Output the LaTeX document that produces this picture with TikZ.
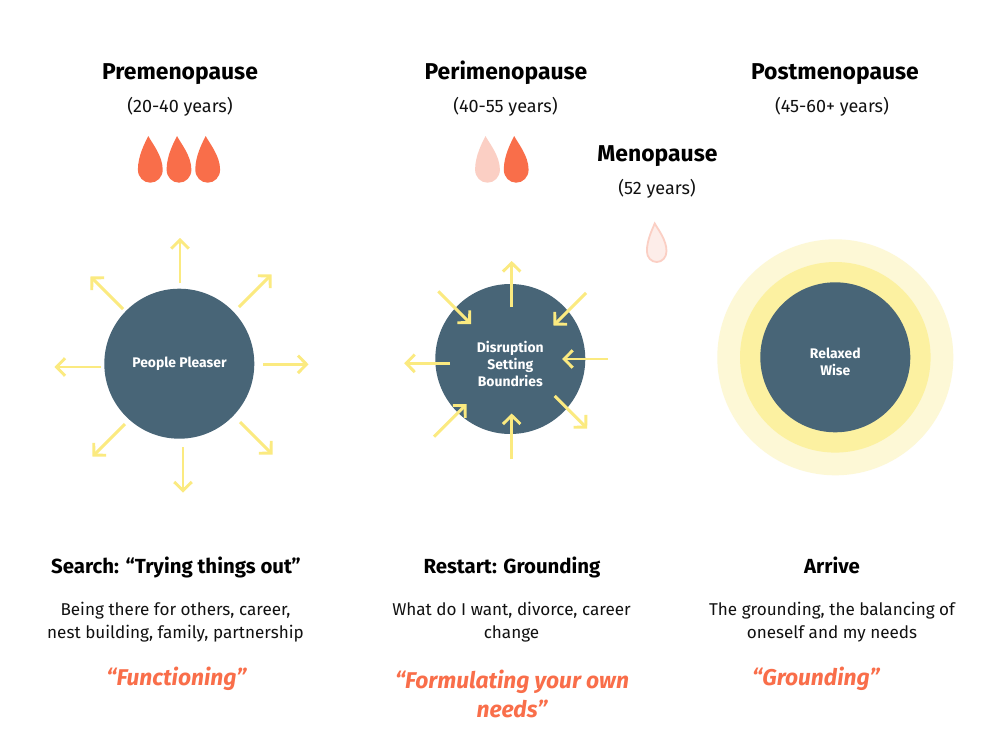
\documentclass[tikz,border=0pt]{standalone}
\usepackage{fontspec}
\setmainfont{Fira Sans}
\usetikzlibrary{arrows.meta}
\definecolor{slate}{HTML}{486577}
\definecolor{ray}{HTML}{FBEA80}
\definecolor{ringmid}{HTML}{FCF1A1}
\definecolor{ringout}{HTML}{FDF8D6}
\definecolor{blood}{HTML}{F96E4A}
\definecolor{bloodpale}{HTML}{FBCFC4}
\definecolor{bloodfaint}{HTML}{FDEDE9}
\definecolor{ink}{HTML}{111111}
\tikzset{
  stagehead/.style={font=\fontsize{22.9}{28}\selectfont\bfseries,text=black,inner sep=0pt,anchor=base},
  years/.style={font=\fontsize{18}{22}\selectfont,text=ink,inner sep=0pt,anchor=base},
  subhead/.style={font=\fontsize{20.4}{26}\selectfont\bfseries,text=black,inner sep=0pt,anchor=base},
  bodytext/.style={font=\fontsize{17.1}{23}\selectfont,text=ink,align=center,inner sep=0pt},
  quoted/.style={font=\fontsize{22.8}{28.5}\selectfont\bfseries\itshape,text=blood,align=center,inner sep=0pt},
  core/.style={circle,fill=slate,minimum size=150pt,inner sep=0pt},
  corelabel/.style={text=white,inner sep=0pt,align=center,font=\fontsize{13.9}{17}\selectfont\bfseries},
  rayarrow/.style={draw=ray,line width=2.9pt,-{Straight Barb[length=8.5pt,width=17.5pt,line width=2.9pt]}},
  dropfull/.style={fill=blood},
  droppale/.style={fill=bloodpale},
  dropfaint/.style={fill=bloodfaint,draw=bloodpale,line width=1.8pt}
}
% #1 style, #2 centre x, #3 tip y, #4 half width, #5 height
\newcommand{\blooddrop}[5]{%
  \path[#1] ({#2-2},#3)
    .. controls ({#2+0.1*#4},{#3+0.14*#5}) and ({#2+#4},{#3+0.42*#5}) .. ({#2+#4},{#3+0.72*#5})
    .. controls ({#2+#4},{#3+0.88*#5}) and ({#2+0.55*#4},{#3+#5}) .. (#2,{#3+#5})
    .. controls ({#2-0.55*#4},{#3+#5}) and ({#2-#4},{#3+0.88*#5}) .. ({#2-#4},{#3+0.72*#5})
    .. controls ({#2-#4},{#3+0.42*#5}) and ({#2-0.42*#4},{#3+0.14*#5}) .. ({#2-2},#3) -- cycle;}
\begin{document}
\begin{tikzpicture}[x=1pt,y=-1pt]
\useasboundingbox (0,0) rectangle (994,747);
\fill[white] (0,0) rectangle (994,747);

% headings
\node[stagehead] (pre) at (180,79) {Premenopause};
\node[years] (preyrs) at (180,112) {(20-40 years)};
\node[stagehead] (peri) at (506,79) {Perimenopause};
\node[years] (periyrs) at (505.5,112) {(40-55 years)};
\node[stagehead] (post) at (835,79) {Postmenopause};
\node[years] (postyrs) at (832,112) {(45-60+ years)};
\node[stagehead] (meno) at (657.5,161) {Menopause};
\node[years] (menoyrs) at (657,194) {(52 years)};

% drops
\blooddrop{dropfull}{150.3}{136}{12.4}{46.7}
\blooddrop{dropfull}{179}{136}{12.4}{46.7}
\blooddrop{dropfull}{207.7}{136}{12.4}{46.7}
\blooddrop{droppale}{487.5}{136}{12.4}{46.7}
\blooddrop{dropfull}{516.2}{136}{12.4}{46.7}
\blooddrop{dropfaint}{656.7}{223.5}{9.8}{38.5}

% rings and cores
\fill[ringout] (835.3,357.3) circle[radius=118];
\fill[ringmid] (835.3,357.3) circle[radius=95.3];
\node[core] (pleaser) at (179.3,363.7) {};
\node[core] (disrupt) at (510.3,359) {};
\node[core] (relaxed) at (835.3,357.3) {};
\node[corelabel,anchor=base] (pleaserlabel) at (179.5,367.5) {People Pleaser};
\node[corelabel] (disruptlabel) at (510.3,364) {Disruption\\Setting\\Boundries};
\node[corelabel] (relaxedlabel) at (835.3,361.5) {Relaxed\\Wise};

% rays
\foreach \n/\ax/\ay/\bx/\by in {
  a/180/283/180/238, b/239/307/271.5/274.5, c/263/364.3/308.5/364.3, d/240/422/272.5/454.5,
  e/183/447/183/492.5, f/125/424/92.5/456.5, g/101/367/54.5/367, h/123/309/90.5/276.5,
  i/511.7/306.7/511.7/261, j/586/293/553.5/325.5, k/607.7/359/562.2/359, l/554.7/396/587.2/428.5,
  m/511.7/459/511.7/413.5, n/434/436.7/466.5/404.2, o/450/363.3/404.2/363.3, p/438.3/291.3/471/324}{
  \coordinate (s\n) at (\ax,\ay);
  \coordinate (t\n) at (\bx,\by);
  \draw[rayarrow] (s\n) -- (t\n);
}

% lower texts
\node[subhead] (search) at (176,573) {Search: “Trying things out”};
\node[subhead] (restart) at (512,573) {Restart: Grounding};
\node[subhead] (arrive) at (832,573) {Arrive};
\node[bodytext] (bodya) at (175.5,622) {Being there for others, career,\\nest building, family, partnership};
\node[bodytext] (bodyb) at (511.5,622) {What do I want, divorce, career\\change};
\node[bodytext] (bodyc) at (832,622) {The grounding, the balancing of\\oneself and my needs};
\node[quoted] (qa) at (176.5,678.5) {“Functioning”};
\node[quoted] (qb) at (512,694) {“Formulating your own\\needs”};
\node[quoted] (qc) at (816,678.5) {“Grounding”};
\end{tikzpicture}
\end{document}
